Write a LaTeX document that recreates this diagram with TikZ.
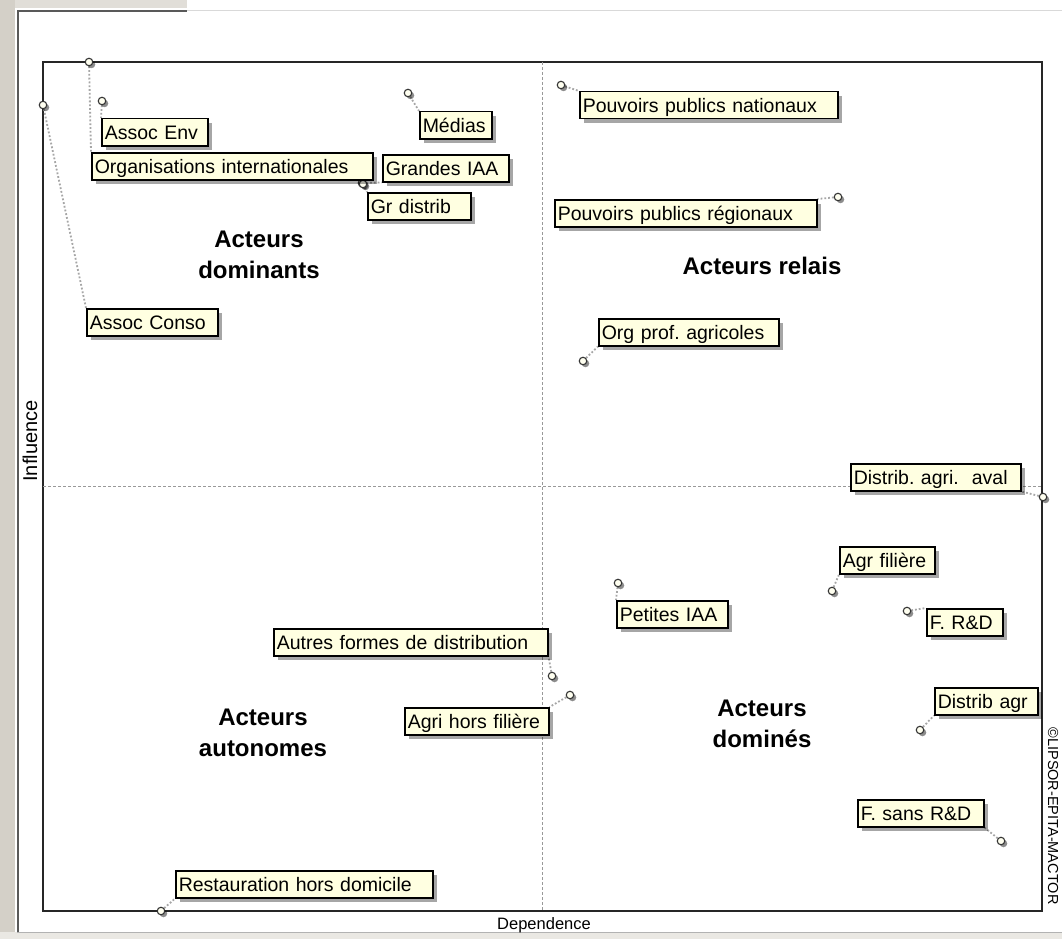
\documentclass[tikz,border=0pt]{standalone}
\usepackage{fontspec}
\setmainfont{Liberation Sans}
\usetikzlibrary{shadows}
\definecolor{tipfill}{HTML}{FFFFE1}
\definecolor{chrome}{HTML}{D4D0C8}
\frenchspacing
\pgfdeclarelayer{under}
\pgfsetlayers{under,main}

\begin{document}
\begin{tikzpicture}[x=1pt,y=-1pt,
  tag/.style={draw=black, line width=1.5, fill=tipfill, anchor=north west,
    inner xsep=3pt, inner ysep=2pt, text height=18.5pt, text depth=4.5pt,
    text width=#1pt, align=left, font=\fontsize{19.5}{22}\selectfont,
    drop shadow={shadow xshift=4pt, shadow yshift=-4pt, fill=black, opacity=0.35}},
  dot/.style={circle, draw=black!80, line width=1.1, fill=tipfill!50!white,
    minimum size=7.5pt, inner sep=0pt,
    drop shadow={shadow xshift=2.5pt, shadow yshift=-2.5pt, fill=black, opacity=0.45}},
  lead/.style={draw=gray!70, line width=1.8, dotted},
  quad/.style={font=\fontsize{24}{31}\selectfont\bfseries, align=center},
  axis/.style={font=\fontsize{#1}{#1}\selectfont}]

\useasboundingbox (0,0) rectangle (1062,939);

% window chrome, plot frame and quadrant separators
\begin{pgfonlayer}{under}
  \fill[white] (0,0) rectangle (1062,939);
  \fill[chrome] (0,0) rectangle (15,939);
  \fill[chrome!70!white] (15,0) rectangle (187,8);
  \fill[chrome!50!white] (0,932) rectangle (1062,939);
  \draw[gray!60, line width=1] (17,932) -- (1062,932);
  \draw[gray!70!black, line width=2] (18,11) -- (18,932);
  \draw[gray!70!black, line width=2] (17,11) -- (187,11);
  \draw[gray!30, line width=1] (187,11) -- (1062,11);
  \draw[black!85, line width=1.8] (43,62) rectangle (1042,911);
  \draw[gray!80, line width=0.9, dash pattern=on 3pt off 2pt] (542,62) -- (542,911);
  \draw[gray!80, line width=0.9, dash pattern=on 3pt off 2pt] (43,486) -- (1042,486);
\end{pgfonlayer}

% quadrant titles
\node[quad] (qdom) at (259,255) {Acteurs\\dominants};
\node[quad] (qrel) at (762,266) {Acteurs relais};
\node[quad] (qaut) at (263,733) {Acteurs\\autonomes};
\node[quad] (qdmn) at (762,724) {Acteurs\\dominés};

% axis titles and credit
\node[axis=20, rotate=90] (ylab) at (30,441) {Influence};
\node[axis=16.5] (xlab) at (544,925) {Dependence};
\node[axis=14.5, rotate=-90] (cred) at (1053,816) {©LIPSOR-EPITA-MACTOR};

% actors: positions
\node[dot] (pEnv) at (102,101) {};
\node[dot] (pOrg) at (89,62) {};
\node[dot] (pCon) at (43,105) {};
\node[dot] (pMed) at (408,93) {};
\node[dot] (pGia) at (362,183) {};
\node[dot] (pGrd) at (363,184) {};
\node[dot] (pPpn) at (561,85) {};
\node[dot] (pPpr) at (838,197) {};
\node[dot] (pOpa) at (583,361) {};
\node[dot] (pDav) at (1043,497) {};
\node[dot] (pAgf) at (832,591) {};
\node[dot] (pFrd) at (907,611) {};
\node[dot] (pPia) at (618,583) {};
\node[dot] (pAut) at (552,676) {};
\node[dot] (pAhf) at (570,695) {};
\node[dot] (pDag) at (920,730) {};
\node[dot] (pFsr) at (1001,841) {};
\node[dot] (pRes) at (161,911) {};

% actors: labels
\node[tag=100] (tEnv) at (101,118) {Assoc Env};
\node[tag=275] (tOrg) at (91,152) {Organisations internationales};
\node[tag=125] (tCon) at (86,308) {Assoc Conso};
\node[tag=66]  (tMed) at (419,111) {Médias};
\node[tag=120] (tGia) at (382,154) {Grandes IAA};
\node[tag=97]  (tGrd) at (367,192) {Gr distrib};
\node[tag=252] (tPpn) at (579,91) {Pouvoirs publics nationaux};
\node[tag=256] (tPpr) at (554,199) {Pouvoirs publics régionaux};
\node[tag=174] (tOpa) at (598,318) {Org prof. agricoles};
\node[tag=164] (tDav) at (850,463) {Distrib. agri.~~aval};
\node[tag=89]  (tAgf) at (839,546) {Agr filière};
\node[tag=70]  (tFrd) at (926,608) {F. R\&D};
\node[tag=105] (tPia) at (616,600) {Petites IAA};
\node[tag=268] (tAut) at (273,628) {Autres formes de distribution};
\node[tag=138] (tAhf) at (404,707) {Agri hors filière};
\node[tag=97]  (tDag) at (934,687) {Distrib agr};
\node[tag=120] (tFsr) at (857,799) {F. sans R\&D};
\node[tag=251] (tRes) at (175,870) {Restauration hors domicile};

% leaders from each position to its label
\begin{pgfonlayer}{under}
  \draw[lead] (pEnv) -- (tEnv.north west);
  \draw[lead] (pOrg) -- (tOrg.north west);
  \draw[lead] (pCon) -- (tCon.north west);
  \draw[lead] (pMed) -- (tMed.north west);
  \draw[lead] (pGia) -- (tGia.south west);
  \draw[lead] (pGrd) -- (tGrd.north west);
  \draw[lead] (pPpn) -- (tPpn.north west);
  \draw[lead] (pPpr) -- (tPpr.north east);
  \draw[lead] (pOpa) -- (tOpa.south west);
  \draw[lead] (pDav) -- (tDav.south east);
  \draw[lead] (pAgf) -- (tAgf.south west);
  \draw[lead] (pFrd) -- (tFrd.north west);
  \draw[lead] (pPia) -- (tPia.north west);
  \draw[lead] (pAut) -- (tAut.south east);
  \draw[lead] (pAhf) -- (tAhf.north east);
  \draw[lead] (pDag) -- (tDag.south west);
  \draw[lead] (pFsr) -- (tFsr.south east);
  \draw[lead] (pRes) -- (tRes.south west);
\end{pgfonlayer}
\end{tikzpicture}
\end{document}
